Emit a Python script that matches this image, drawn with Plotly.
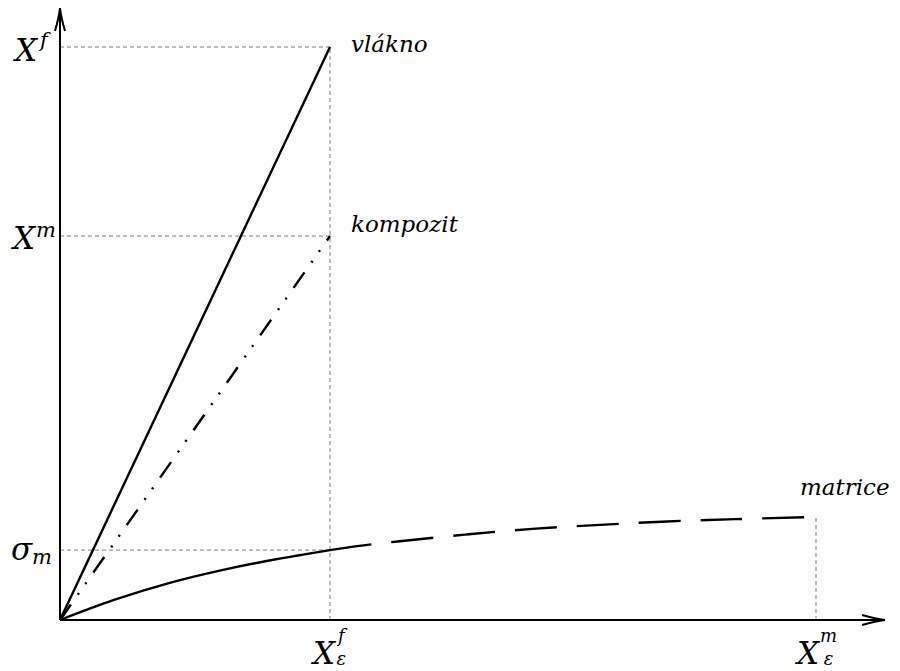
import plotly.graph_objects as go

# Characteristic strains (x) and stresses (y) of the constituents
strain_fibre = 1.0          # X_eps^f
strain_matrix = 2.8         # X_eps^m
stress_fibre = 100.0        # X^f
stress_composite = 67.0     # X^m
stress_matrix_at_fibre = 12.2  # sigma_m

# Fibre and composite: linear up to fibre failure
fibre_x = [0.0, strain_fibre]
fibre_y = [0.0, stress_fibre]
composite_x = [0.0, strain_fibre]
composite_y = [0.0, stress_composite]

# Matrix curve, solid up to fibre failure strain, dashed beyond
matrix_x_solid = [0.0, 0.2, 0.4, 0.6, 0.8, 0.9, 1.0]
matrix_y_solid = [0.0, 3.5, 6.4, 8.7, 10.6, 11.4, 12.2]
matrix_x_dash = [1.0, 1.1, 1.25, 1.5, 1.75, 2.0, 2.25, 2.5, 2.8]
matrix_y_dash = [12.2, 12.9, 13.7, 14.9, 15.9, 16.6, 17.2, 17.6, 18.0]

curve_labels = ["vlákno", "kompozit", "matrice"]

# axis extents
x_end = 3.0556
y_end = 106.8
x_range = [-0.2222, 3.1111]
y_range = [-8.9, 108.2]

SERIF = "DejaVu Serif"
ink = "black"
guide = "#7a7a7a"

fig = go.Figure()

fig.add_trace(go.Scatter(x=fibre_x, y=fibre_y, mode="lines",
                         line=dict(color=ink, width=2.4), hoverinfo="skip"))
fig.add_trace(go.Scatter(x=composite_x, y=composite_y, mode="lines",
                         line=dict(color=ink, width=2.4,
                                   dash="19px,12px,2px,11px,2px,12px"),
                         hoverinfo="skip"))
fig.add_trace(go.Scatter(x=matrix_x_solid, y=matrix_y_solid, mode="lines",
                         line=dict(color=ink, width=2.4, shape="spline",
                                   smoothing=1.0),
                         hoverinfo="skip"))
fig.add_trace(go.Scatter(x=matrix_x_dash, y=matrix_y_dash, mode="lines",
                         line=dict(color=ink, width=2.4, shape="spline",
                                   smoothing=1.0, dash="42px,20px"),
                         hoverinfo="skip"))

shapes = []
# dashed guide lines
guide_line = dict(color=guide, width=1, dash="4px,3px")
for yv in (stress_fibre, stress_composite, stress_matrix_at_fibre):
    shapes.append(dict(type="line", x0=0, x1=strain_fibre, y0=yv, y1=yv,
                       line=guide_line, layer="below"))
shapes.append(dict(type="line", x0=strain_fibre, x1=strain_fibre, y0=0,
                   y1=stress_fibre, line=guide_line, layer="below"))
shapes.append(dict(type="line", x0=strain_matrix, x1=strain_matrix, y0=0,
                   y1=matrix_y_dash[-1], line=guide_line, layer="below"))

# axes with open arrowheads
axis_line = dict(color=ink, width=2)
shapes.append(dict(type="line", x0=0, x1=x_end, y0=0, y1=0, line=axis_line))
shapes.append(dict(type="line", x0=0, x1=0, y0=0, y1=y_end, line=axis_line))
shapes.append(dict(type="path", xsizemode="pixel", ysizemode="pixel",
                   xanchor=x_end, yanchor=0,
                   path="M -23,5 Q -9,1 0,0 Q -9,-1 -23,-5",
                   line=dict(color=ink, width=2)))
shapes.append(dict(type="path", xsizemode="pixel", ysizemode="pixel",
                   xanchor=0, yanchor=y_end,
                   path="M -5,-23 Q -1,-9 0,0 Q 1,-9 5,-23",
                   line=dict(color=ink, width=2)))

annotations = []


def label(text, x, y, size, dx=0, dy=0, xanchor="center", yanchor="middle"):
    annotations.append(dict(text=text, x=x, y=y, xref="x", yref="y",
                            xshift=dx, yshift=dy, showarrow=False,
                            xanchor=xanchor, yanchor=yanchor, borderpad=0,
                            font=dict(family=SERIF, size=size, color=ink,
                                      style="italic")))


# curve names
label(curve_labels[0], strain_fibre, stress_fibre, 23, dx=20, dy=3, xanchor="left")
label(curve_labels[1], strain_fibre, stress_composite, 23, dx=20, dy=12, xanchor="left")
label(curve_labels[2], strain_matrix, matrix_y_dash[-1], 23, dx=-17, dy=30, xanchor="left")

# stress labels on the vertical axis
MATH = 31
SUP = 21
label("X", 0, stress_fibre, MATH, dx=-20, dy=-3, xanchor="right")
label("f", 0, stress_fibre, SUP, dx=-23, dy=7, xanchor="left")
label("X", 0, stress_composite, MATH, dx=-22, dy=-2, xanchor="right")
label("m", 0, stress_composite, SUP, dx=-25, dy=6, xanchor="left")
label("σ", 0, stress_matrix_at_fibre, MATH, dx=-26, dy=1, xanchor="right")
label("m", 0, stress_matrix_at_fibre, SUP, dx=-29, dy=-7, xanchor="left")

# strain labels under the horizontal axis (sup over sub, stacked)
label("X", strain_fibre, 0, MATH, dx=8, dy=-33, xanchor="right")
label("f<br>ε", strain_fibre, 0, 18, dx=5, dy=-27, xanchor="left")
label("X", strain_matrix, 0, MATH, dx=6, dy=-33, xanchor="right")
label("m<br>ε", strain_matrix, 0, 18, dx=3, dy=-27, xanchor="left")

fig.update_layout(
    width=900, height=671,
    margin=dict(l=0, r=0, t=0, b=0),
    paper_bgcolor="white", plot_bgcolor="white",
    showlegend=False,
    xaxis=dict(range=x_range, visible=False, fixedrange=True),
    yaxis=dict(range=y_range, visible=False, fixedrange=True),
    shapes=shapes,
    annotations=annotations,
)

fig.write_html("out.html", config={"displayModeBar": False})
